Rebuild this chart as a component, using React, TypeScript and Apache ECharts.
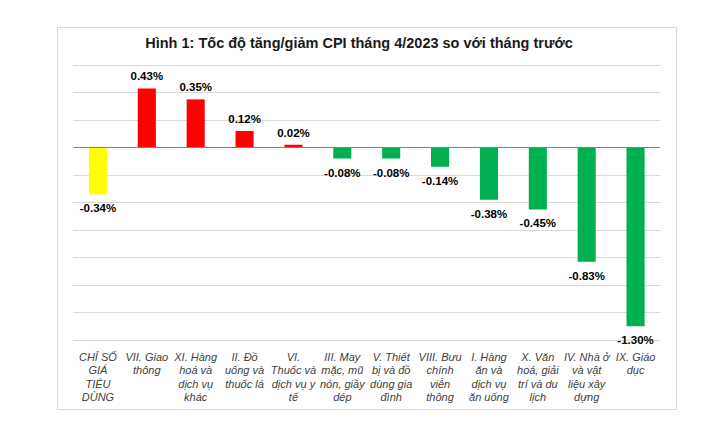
import React, { useEffect, useRef } from "react";
import * as echarts from "echarts";

const title = "Hình 1: Tốc độ tăng/giảm CPI tháng 4/2023 so với tháng trước";

const categories = [
  "CHỈ SỐ\nGIÁ\nTIÊU\nDÙNG",
  "VII. Giao\nthông",
  "XI. Hàng\nhoá và\ndịch vụ\nkhác",
  "II. Đồ\nuống và\nthuốc lá",
  "VI.\nThuốc và\ndịch vụ y\ntế",
  "III. May\nmặc, mũ\nnón, giầy\ndép",
  "V. Thiết\nbị và đồ\ndùng gia\nđình",
  "VIII. Bưu\nchính\nviễn\nthông",
  "I. Hàng\năn và\ndịch vụ\năn uống",
  "X. Văn\nhoá, giải\ntrí và du\nlịch",
  "IV. Nhà ở\nvà vật\nliệu xây\ndựng",
  "IX. Giáo\ndục",
];

const values = [-0.34, 0.43, 0.35, 0.12, 0.02, -0.08, -0.08, -0.14, -0.38, -0.45, -0.83, -1.3];

const yMin = -1.4;
const yMax = 0.6;
const yInterval = 0.2;

export default function App() {
  const ref = useRef<HTMLDivElement>(null);
  useEffect(() => {
    if (!ref.current) return;
    const chart = echarts.init(ref.current, null, { renderer: "svg" });
    const data = values.map((v, i) => ({
      value: v,
      itemStyle: { color: i === 0 ? "#FFFF00" : v >= 0 ? "#FF0000" : "#00B050" },
      label: { position: v >= 0 ? "top" : "bottom", distance: v >= 0 ? 6 : 8 },
    }));
    chart.setOption({
      animation: false,
      backgroundColor: "#ffffff",
      title: {
        text: title,
        left: "center",
        top: 30,
        textStyle: {
          fontFamily: "Liberation Sans",
          fontSize: 14.5,
          fontWeight: "bold",
          color: "#1a1a1a",
        },
      },
      graphic: [
        {
          type: "rect",
          shape: { x: 57.5, y: 27.5, width: 619, height: 382 },
          style: { fill: "none", stroke: "#d9d9d9", lineWidth: 1 },
          silent: true,
          z: -1,
        },
      ],
      grid: { left: 73.5, right: 58, top: 65, bottom: 87, containLabel: false },
      xAxis: {
        type: "category",
        data: categories,
        axisLine: { show: false },
        axisTick: { show: false },
        axisLabel: {
          interval: 0,
          color: "#404040",
          fontStyle: "italic",
          fontFamily: "Liberation Sans",
          fontSize: 11,
          lineHeight: 13.5,
          margin: 10,
        },
      },
      yAxis: {
        type: "value",
        min: yMin,
        max: yMax,
        interval: yInterval,
        axisLabel: { show: false },
        axisLine: { show: false },
        axisTick: { show: false },
        splitLine: { lineStyle: { color: "#d9d9d9", width: 1 } },
      },
      series: [
        {
          type: "bar",
          data,
          barWidth: "37%",
          label: {
            show: true,
            fontFamily: "Liberation Sans",
            fontSize: 11.5,
            fontWeight: "bold",
            color: "#000000",
            formatter: (p: any) => p.value.toFixed(2) + "%",
          },
          markLine: {
            silent: true,
            symbol: "none",
            label: { show: false },
            lineStyle: { color: "#7f7f7f", type: "solid", width: 1 },
            data: [{ yAxis: 0 }],
          },
        },
      ],
    });
    return () => chart.dispose();
  }, []);
  return (
    <div
      ref={ref}
      style={{ position: "fixed", left: 0, top: 0, width: 718, height: 427 }}
    />
  );
}
